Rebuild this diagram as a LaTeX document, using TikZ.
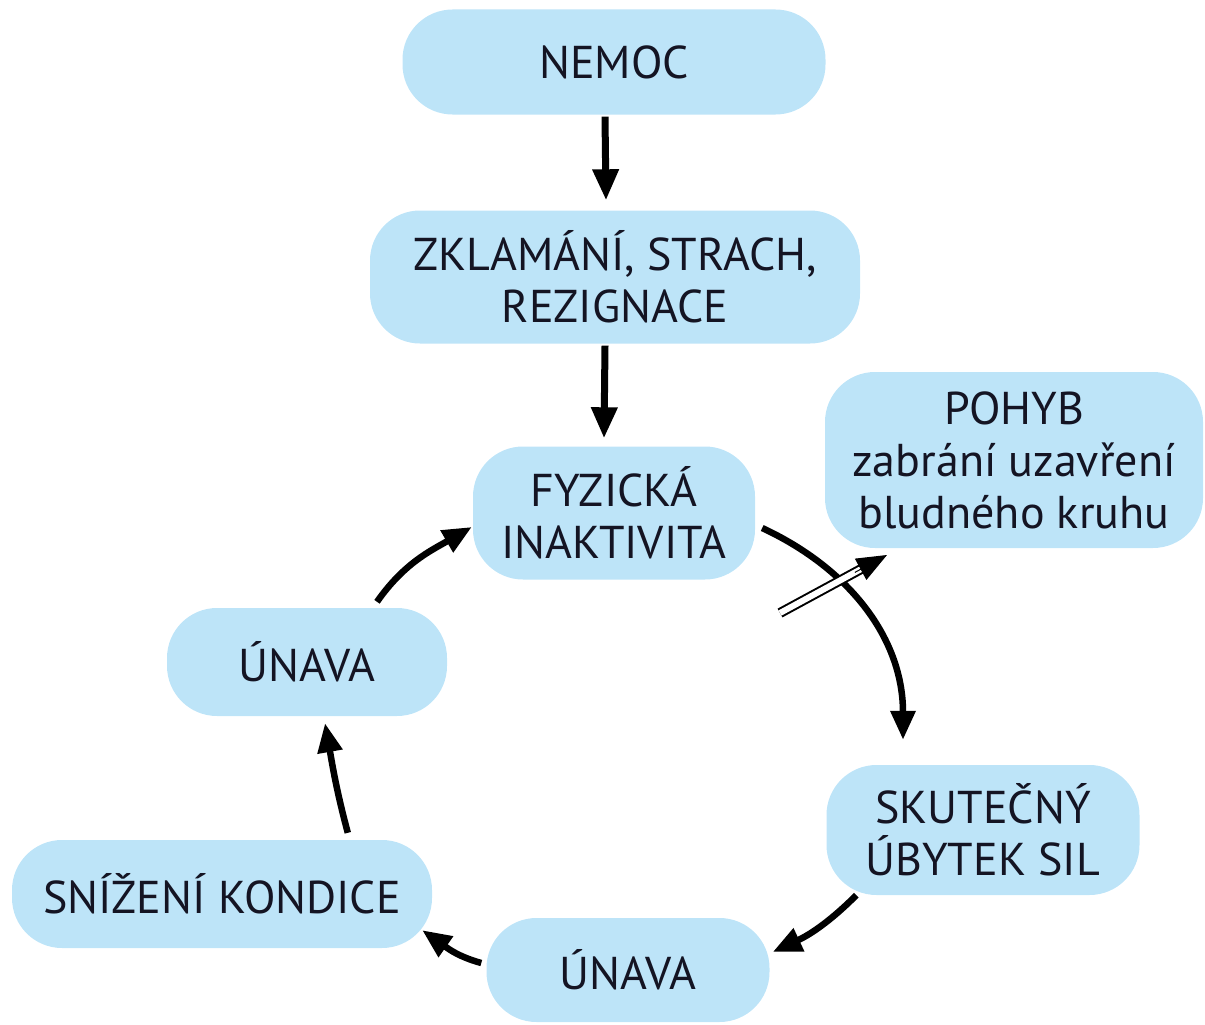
\documentclass[tikz,border=0pt]{standalone}
\usepackage{fontspec}
\setmainfont{PT Sans}
\usetikzlibrary{arrows.meta,calc}
\definecolor{boxblue}{RGB}{189,228,248}
\definecolor{txt}{RGB}{20,20,35}
\begin{document}
\begin{tikzpicture}[x=1pt,y=1pt,
  blob/.style={fill=boxblue,draw=none,rounded corners=50pt,inner sep=0pt,
    align=center,text=txt,font=\fontsize{46}{52}\selectfont},
  main/.style={line width=7pt,-{Triangle[length=31pt,width=25pt]}},
  circ/.style={line width=6.5pt,-{Triangle[length=29pt,width=24pt]}}]
\useasboundingbox (0,0) rectangle (1205,-1025);
\node[blob,minimum width=423pt,minimum height=105pt] (nemoc) at (614,-62) {NEMOC};
\node[blob,minimum width=490pt,minimum height=133pt] (zkl) at (615,-277) {ZKLAMÁNÍ, STRACH,\\REZIGNACE};
\node[blob,minimum width=282pt,minimum height=133pt] (fyz) at (614,-513) {FYZICKÁ\\INAKTIVITA};
\node[blob,minimum width=378pt,minimum height=176pt] (pohyb) at (1014,-460) {POHYB\\zabrání uzavření\\bludného kruhu};
\node[blob,minimum width=280pt,minimum height=108pt] (unl) at (307,-662) {ÚNAVA};
\node[blob,minimum width=313pt,minimum height=130pt] (sku) at (983,-830) {SKUTEČNÝ\\ÚBYTEK SIL};
\node[blob,minimum width=420pt,minimum height=108pt] (sniz) at (222,-894) {SNÍŽENÍ KONDICE};
\node[blob,minimum width=283pt,minimum height=104pt] (unb) at (628,-970) {ÚNAVA};
% straight arrows
\draw[main] ([xshift=-9pt,yshift=-2pt]nemoc.south) -- ([xshift=-9pt,yshift=10pt]zkl.north);
\draw[main] ([xshift=-10pt,yshift=-2pt]zkl.south) -- ([xshift=-10pt,yshift=8pt]fyz.north);
% cycle arrows
\draw[circ] ([xshift=7pt,yshift=-15pt]fyz.east) to[out=-25,in=90] ([xshift=-80pt,yshift=25pt]sku.north);
\draw[circ] ([xshift=30pt,yshift=0pt]sku.south west) to[out=-135,in=25] ([xshift=3pt,yshift=18pt]unb.east);
\draw[circ] ([xshift=-5pt,yshift=7pt]unb.west) to[out=165,in=-35] ([xshift=-10pt,yshift=18pt]sniz.south east);
\draw[circ] ([xshift=336pt,yshift=7pt]sniz.north west) to[out=105,in=-80] ([xshift=18pt,yshift=-7pt]unl.south);
\draw[circ] ([xshift=70pt,yshift=6pt]unl.north) to[out=55,in=-150] ([xshift=-1pt,yshift=-14pt]fyz.west);
% double arrow to POHYB
\coordinate (ds) at (780,-613);
\coordinate (dt) at (887,-555);
\draw[line width=2pt,double distance=6pt,shorten >=24pt] (ds) -- (dt);
\draw[line width=1pt,-{Triangle[length=30pt,width=24pt]}] ($(ds)!0.7!(dt)$) -- (dt);
\end{tikzpicture}
\end{document}
